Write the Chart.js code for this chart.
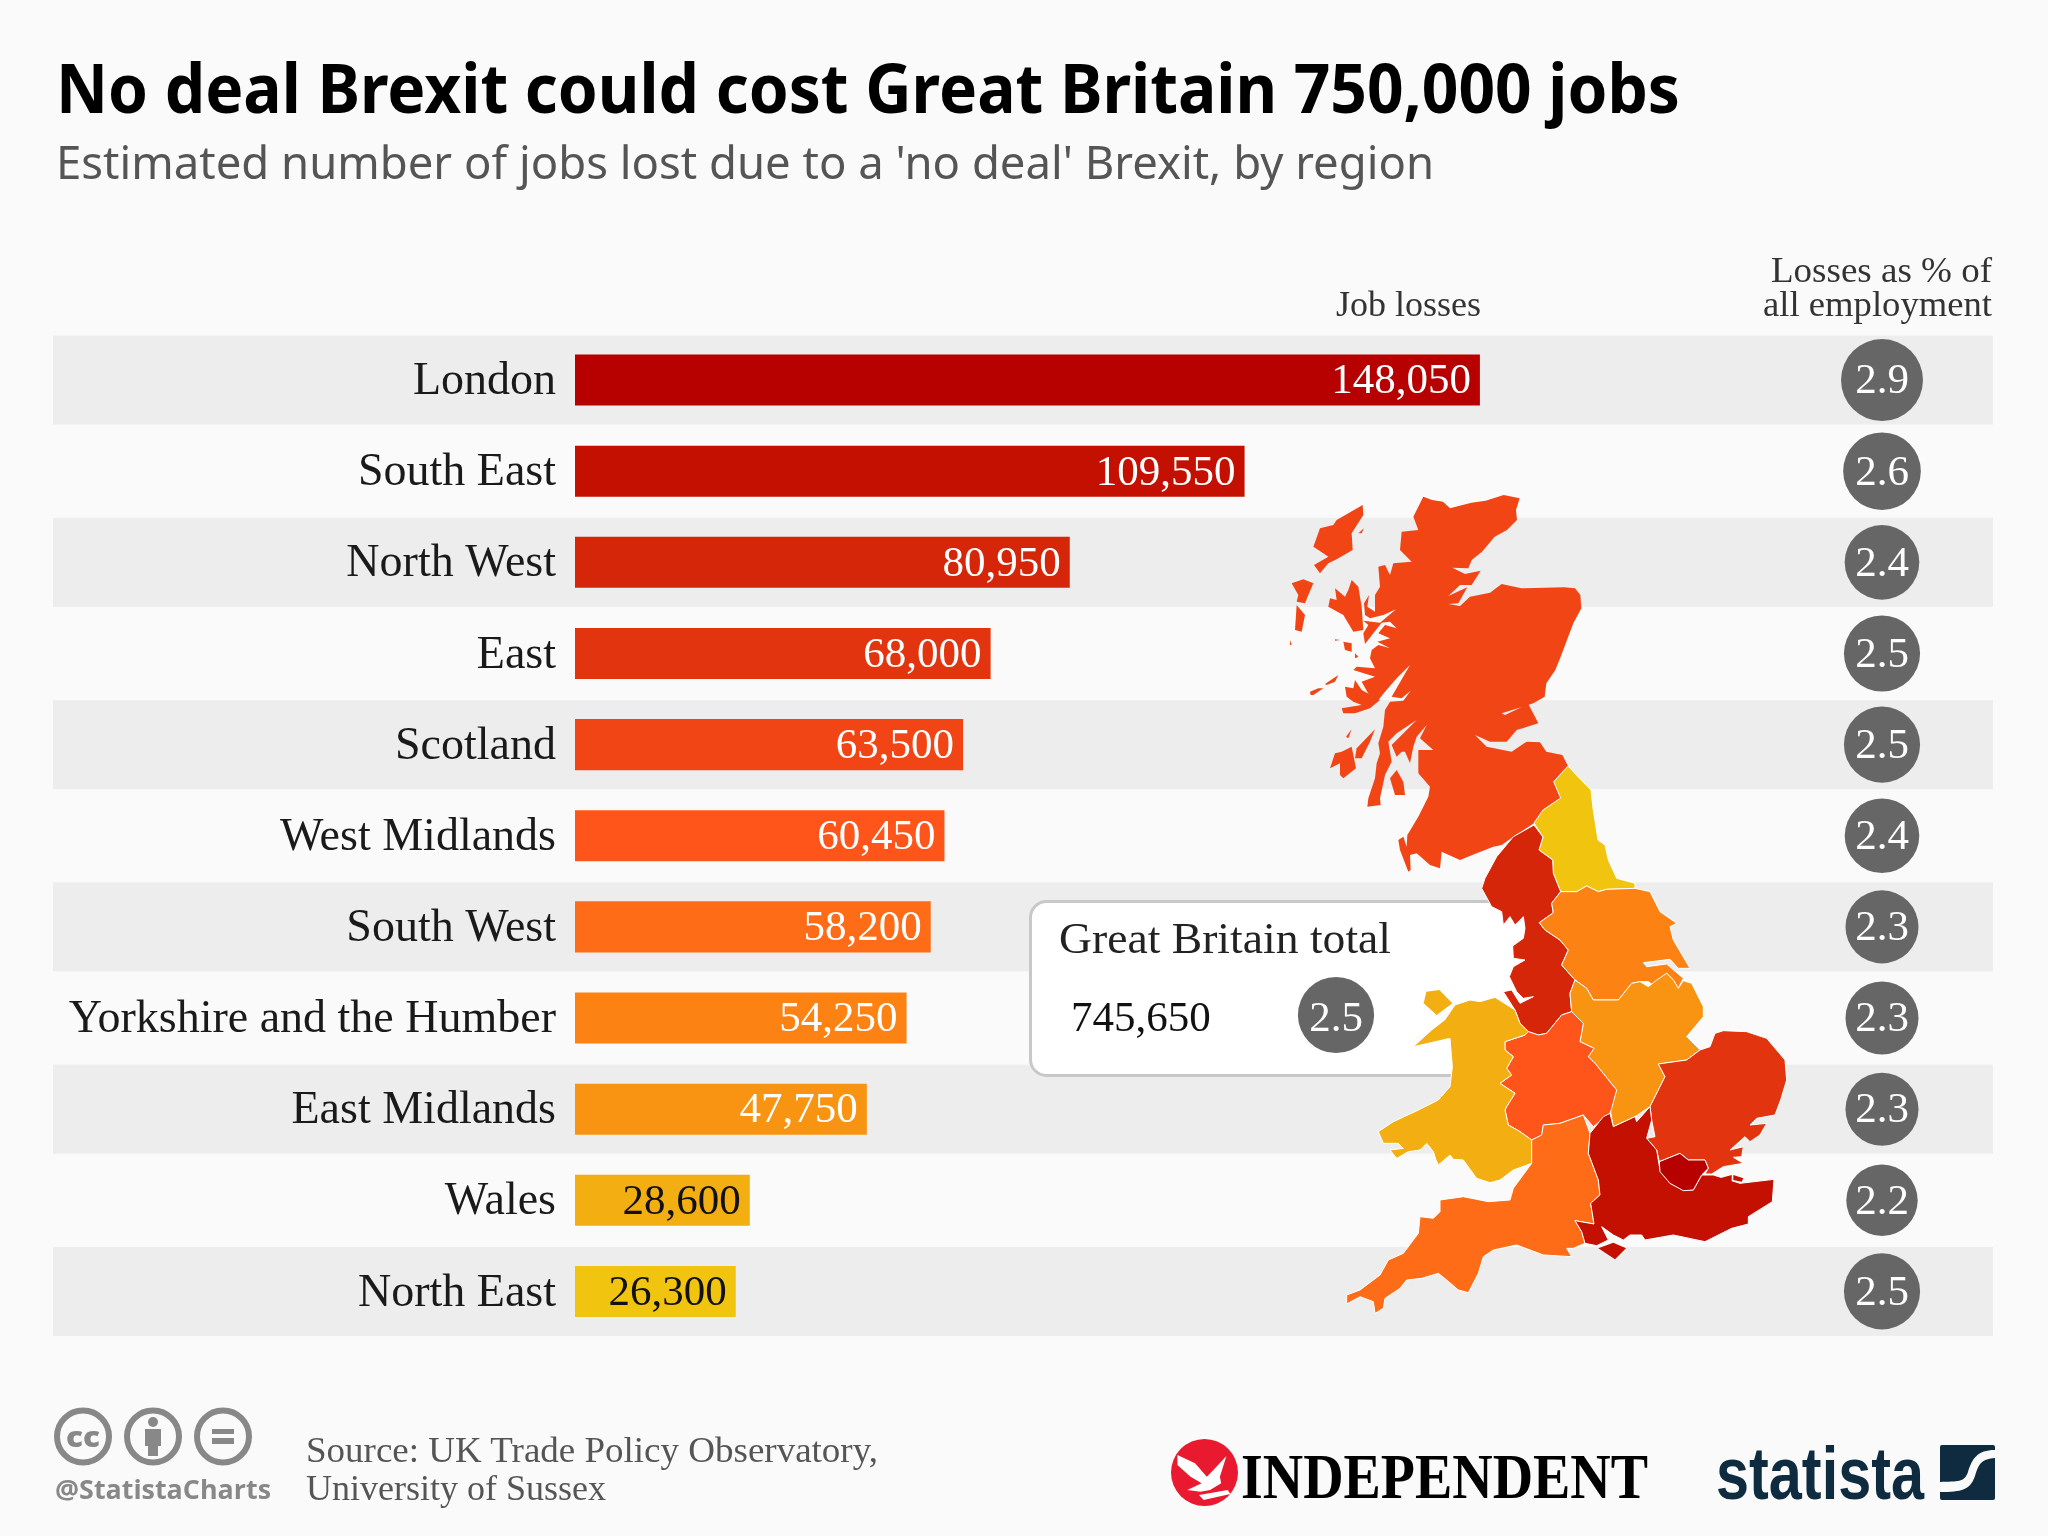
<!DOCTYPE html>
<html lang="en">
<head>
<meta charset="UTF-8">
<title>No deal Brexit could cost Great Britain 750,000 jobs</title>
<script src="https://cdn.jsdelivr.net/npm/chart.js@4/dist/chart.umd.min.js"></script>
<style>
  html, body { margin: 0; padding: 0; background: #fafafa; }
  #wrap { position: relative; width: 2048px; height: 1536px; overflow: hidden; }
  #myChart { position: absolute; left: 0; top: 0; }
  #overlay { position: absolute; left: 0; top: 0; }
  .serif { font-family: "Liberation Serif", serif; }
  .map path { stroke: #fff; stroke-width: 1; vector-effect: non-scaling-stroke; stroke-linejoin: round; }
  .map path.bare { stroke: none; }
</style>
</head>
<body>
<div id="wrap">
  <canvas id="myChart" width="2048" height="1536"></canvas>

  <svg id="overlay" width="2048" height="1536" viewBox="0 0 2048 1536">
    <!-- heading -->
    <text x="56" y="113" font-family="Noto Sans" font-weight="700" font-size="68" fill="#000" textLength="1624" lengthAdjust="spacingAndGlyphs">No deal Brexit could cost Great Britain 750,000 jobs</text>
    <text x="56" y="179" font-family="Noto Sans" font-size="46" fill="#555" textLength="1378" lengthAdjust="spacingAndGlyphs">Estimated number of jobs lost due to a 'no deal' Brexit, by region</text>

    <!-- column heads -->
    <g class="serif" font-size="36" fill="#333">
      <text x="1336" y="316" textLength="145" lengthAdjust="spacingAndGlyphs">Job losses</text>
      <text x="1771" y="282" textLength="221" lengthAdjust="spacingAndGlyphs">Losses as % of</text>
      <text x="1763" y="316" textLength="229" lengthAdjust="spacingAndGlyphs">all employment</text>
    </g>

    <!-- total box, sits under the map -->
    <rect x="1030.5" y="901.5" width="505" height="174" rx="16" fill="#fff" stroke="#c8c8c8" stroke-width="3"/>
    <text id="totalTitle" class="serif" x="1059" y="953" font-size="45" fill="#222" textLength="332" lengthAdjust="spacingAndGlyphs"></text>
    <text id="totalJobs" class="serif" x="1071" y="1031" font-size="43" fill="#111"></text>
    <circle id="totalCircle" cx="1336" cy="1015" fill="#666"/>
    <text id="totalPct" class="serif" x="1336" y="1031" font-size="43" fill="#fff" text-anchor="middle"></text>

    <!-- Scotland, traced from the crop at 1290,500 at 3x -->
    <g class="map" transform="translate(1290 500) scale(0.33333)" fill="#f24516">
      <path class="bare" d="M400 -10L426 0 459 5 480 25 544 8 587 2 641 -15 689 -5 678 30 681 60 651 90 614 110 576 155 545 180 535 205 487 203 525 222 572 212 545 255 510 255 475 288 532 262 505 310 475 312 510 318 540 290 600 278 635 252 694 265 823 262 855 265 871 285 874 325 850 370 831 420 812 470 796 510 769 550 764 590 730 610 635 640 645 645 715 612 745 670 680 690 650 725 600 725 555 705 590 740 665 755 710 725 750 727 769 755 817 765 834 798 791 845 812 895 759 930 732 970 678 1005 670 1010 635 1035 610 1040 560 1060 510 1080 455 1055 450 1105 420 1095 380 1060 360 1065 362 1110 355 1115 330 1050 325 1020 340 1010 350 1040 352 1005 385 950 415 890 420 860 385 820 385 750 430 750 390 715 410 675 380 710 370 740 360 790 345 755 335 755 320 770 305 735 380 660 320 700 295 725 305 785 285 825 270 895 272 915 232 920 235 895 255 835 260 790 270 760 265 730 280 680 285 630 300 605 340 602 362 572 335 595 305 590 360 495 320 535 285 575 265 600 240 590 215 545 255 530 190 510 200 500 255 505 240 475 245 450 265 435 300 445 262 425 300 415 265 400 285 375 320 385 300 365 275 368 250 400 225 432 220 400 235 375 220 362 270 368 318 328 280 345 240 355 225 345 222 310 237 285 232 320 255 335 255 285 270 260 265 200 285 195 300 225 310 190 365 185 330 150 335 95 385 90 370 50 395 0Z"/>
      <path class="bare" d="M185 240L205 260 215 320 220 390 190 395 160 345 115 320 120 295 140 300 135 265 165 290 175 270Z"/>
      <path class="bare" d="M218 15L220 45 185 100 188 150 140 178 115 190 90 220 72 195 115 170 85 150 70 140 90 85 130 75 140 60Z"/>
      <path class="bare" d="M205 100L222 85 215 100Z"/>
      <path class="bare" d="M5 250L40 238 70 250 55 285 45 310 20 305 25 285Z"/>
      <path class="bare" d="M20 315L45 345 35 395 15 390Z"/>
      <path class="bare" d="M0 420L5 435 0 435Z"/>
      <path class="bare" d="M160 425L185 430 185 455 165 450Z"/>
      <path class="bare" d="M195 460L205 470 195 475Z"/>
      <path class="bare" d="M135 418L150 420 135 422Z"/>
      <path class="bare" d="M60 575L85 565 100 565 70 585 62 585Z"/>
      <path class="bare" d="M105 552L145 525 135 545 110 555Z"/>
      <path class="bare" d="M195 540L215 570 270 600 240 625 195 640 160 640 155 625 215 615 190 605 170 590 165 560 190 565Z"/>
      <path class="bare" d="M120 805L135 760 155 755 185 740 198 805 160 835 150 825 150 790Z"/>
      <path class="bare" d="M195 775L200 745 255 688 240 725 215 775Z"/>
      <path class="bare" d="M168 710L185 688 175 715Z"/>
      <path class="bare" d="M300 835L320 810 340 845 345 885 315 885Z"/>
    </g>

    <!-- north of England, midlands, Wales, traced from the crop at 1470,860 at 3x -->
    <g class="map" transform="translate(1470 860) scale(0.33333)">
      <path fill="#f1c40f" d="M294 -282L251 -235 272 -186 219 -150 192 -111 219 -69 207 -30 248 0 250 40 272 95 320 95 350 78 385 95 410 88 495 85 495 70 440 55 415 0 405 -45 384 -60 369 -156 363 -210 342 -231Z"/>
      <path fill="#d5260a" d="M192 -105L219 -69 207 -30 248 0 250 40 272 95 245 130 250 158 208 188 225 210 270 240 295 270 275 315 315 360 300 400 305 455 275 465 230 520 205 525 175 515 150 490 135 450 100 395 125 390 150 430 190 410 160 415 140 395 118 350 130 320 165 300 130 295 128 258 160 235 165 205 160 170 135 195 120 170 100 195 95 155 65 140 35 85 45 55 80 -10 130 -70Z"/>
      <path fill="#fb8213" d="M272 95L320 95 350 78 385 95 410 88 495 85 540 95 570 155 620 190 600 200 610 240 660 325 625 325 600 298 520 308 530 320 590 312 640 355 625 385 610 360 590 340 555 380 535 365 510 365 485 370 445 420 370 420 350 385 315 360 275 315 295 270 270 240 225 210 208 188 250 158 245 130Z"/>
      <path fill="#f89412" d="M315 360L350 385 370 420 445 420 485 370 510 365 535 380 560 360 590 340 610 360 625 385 640 362 665 370 700 440 700 470 650 530 690 570 650 600 565 612 585 650 565 690 540 740 495 770 430 800 420 745 440 690 375 610 355 590 372 565 330 545 340 490 305 455 300 400Z"/>
      <path fill="#ff541a" d="M305 455L340 490 330 545 372 565 355 590 375 610 440 690 425 745 420 760 370 800 340 765 270 790 220 795 215 825 185 840 150 815 115 795 105 750 110 740 135 700 90 670 125 645 110 625 130 590 105 570 105 545 165 525 175 515 205 525 230 520 275 465Z"/>
      <path fill="#e2350f" d="M565 612L650 600 690 570 720 560 735 520 760 512 830 515 890 535 945 600 950 660 932 720 915 765 860 775 840 795 890 790 870 825 840 845 825 830 780 870 820 860 815 890 790 892 820 910 760 920 725 942 705 942 715 925 705 900 655 900 630 880 568 905 560 870 530 835 555 830 545 780 540 740 565 690 585 650Z"/>
      <path fill="#f3ae12" d="M0 420L30 425 75 412 135 450 150 490 175 515 165 525 105 545 105 570 130 590 110 625 125 645 90 670 135 700 110 740 105 750 115 795 150 815 185 840 185 910 130 930 90 960 60 968 20 955 -20 900 -50 898 -60 885 -95 915 -102 900 -110 875 -130 850 -150 870 -185 875 -220 895 -240 870 -200 865 -215 850 -260 850 -275 815 -230 785 -165 755 -95 720 -60 680 -53 620 -60 535 -170 560 -115 510 -76 480 -45 435Z"/>
      <path fill="#f3ae12" class="bare" d="M-131 395L-92 390 -53 430 -100 465 -139 430Z"/>
    </g>

    <!-- south of England, traced from the crop at 1340,1100 at 3x -->
    <g class="map" transform="translate(1340 1100) scale(0.33333)">
      <path fill="#ff6c17" d="M750 100L745 160 775 240 780 285 752 310 762 372 705 362 725 395 735 430 700 445 680 445 695 470 610 465 530 435 460 450 430 470 415 520 385 578 355 570 320 540 295 520 245 535 200 540 180 565 135 595 130 625 105 640 100 605 60 590 20 612 20 585 60 570 120 525 145 480 190 460 235 400 240 350 280 355 300 335 300 300 370 290 445 305 510 300 520 265 575 190 575 120 605 105 610 75 660 70 730 45Z"/>
      <path fill="#c41000" d="M810 40L820 80 885 50 890 65 930 20 935 60 920 115 950 150 960 210 990 250 1030 270 1060 270 1085 225 1120 225 1200 250 1302 238 1297 305 1225 350 1225 372 1175 385 1095 425 1000 405 915 420 905 405 870 405 850 420 820 405 785 380 805 420 770 437 735 430 725 395 705 362 762 372 752 310 780 285 775 240 745 160 750 100 790 50Z"/>
      <path fill="#c41000" class="bare" d="M775 445L820 428 858 445 825 478Z"/>
      <path fill="#c41000" class="bare" d="M1180 225L1210 235 1205 245 1180 240Z"/>
      <path fill="#c41000" class="bare" d="M1140 235L1175 225 1175 245 1150 245Z"/>
      <path fill="#b70000" d="M958 185L1020 160 1045 180 1095 180 1105 205 1085 225 1060 270 1030 272 990 250 960 215Z"/>
    </g>

    <!-- footer left -->
    <g fill="none" stroke="#888" stroke-width="6">
      <ellipse cx="83" cy="1436.5" rx="26" ry="26"/>
      <ellipse cx="153" cy="1436.5" rx="26" ry="26"/>
      <ellipse cx="223" cy="1436.5" rx="26" ry="26"/>
    </g>
    <text x="83" y="1447" font-family="Open Sans" font-weight="800" font-size="29" fill="#888" text-anchor="middle" textLength="34" lengthAdjust="spacingAndGlyphs">cc</text>
    <g fill="#888">
      <circle cx="153" cy="1422" r="5"/>
      <rect x="145" y="1429" width="16" height="17"/>
      <rect x="148" y="1446" width="10" height="10"/>
      <rect x="212" y="1429" width="22" height="5"/>
      <rect x="212" y="1438" width="22" height="6"/>
    </g>
    <text x="55" y="1499" font-family="Open Sans" font-weight="700" font-size="27" fill="#888" textLength="216" lengthAdjust="spacingAndGlyphs">@StatistaCharts</text>
    <g class="serif" font-size="36" fill="#555">
      <text x="306" y="1462" textLength="572" lengthAdjust="spacingAndGlyphs">Source: UK Trade Policy Observatory,</text>
      <text x="306" y="1500" textLength="300" lengthAdjust="spacingAndGlyphs">University of Sussex</text>
    </g>

    <!-- footer logos -->
    <ellipse cx="1204.5" cy="1472.5" rx="33.5" ry="33.5" fill="#e9192f"/>
    <g transform="translate(1024 1380) scale(0.653 0.33333)" fill="#fff">
      <path d="M235 225L262 250 280 290 290 270 310 228 300 290 302 310 285 330 270 335 250 330 272 310 255 290 235 255Z"/>
      <path d="M268 345L312 330 316 342 275 360Z"/>
    </g>
    <text class="serif" x="1241" y="1498" font-size="63" font-weight="700" fill="#000" textLength="407" lengthAdjust="spacingAndGlyphs">INDEPENDENT</text>
    <text x="1716" y="1499" font-family="Liberation Sans" font-weight="700" font-size="74" fill="#0f2b40" textLength="208" lengthAdjust="spacingAndGlyphs">statista</text>
    <rect x="1940" y="1445" width="55" height="55" rx="2" fill="#0f2b40"/>
    <path d="M1995 1450C1977 1450 1972 1459 1968 1472 1964 1483 1958 1481 1940 1482L1940 1492C1962 1492 1970 1490 1975 1476 1979 1463 1982 1459 1995 1458Z" fill="#fafafa"/>
  </svg>
</div>

<script>
  var categories = ['London', 'South East', 'North West', 'East', 'Scotland', 'West Midlands', 'South West', 'Yorkshire and the Humber', 'East Midlands', 'Wales', 'North East'];
  var jobLosses = [148050, 109550, 80950, 68000, 63500, 60450, 58200, 54250, 47750, 28600, 26300];
  var lossShare = [2.9, 2.6, 2.4, 2.5, 2.5, 2.4, 2.3, 2.3, 2.3, 2.2, 2.5];
  var regionColors = ['#b70000', '#c41000', '#d5260a', '#e2350f', '#f24516', '#ff541a', '#ff6c17', '#fb8213', '#f89412', '#f3ae12', '#f1c40f'];
  var valueTextColors = ['#fff', '#fff', '#fff', '#fff', '#fff', '#fff', '#fff', '#fff', '#fff', '#111', '#111'];

  var totalTitle = 'Great Britain total';
  var totalJobs = 745650;
  var totalShare = 2.5;

  function fmt(n) { return n.toLocaleString('en-GB'); }
  // circle area follows the share
  function circleRadius(v) { return 41 * Math.sqrt(v / 2.9); }

  document.getElementById('totalTitle').textContent = totalTitle;
  document.getElementById('totalJobs').textContent = fmt(totalJobs);
  document.getElementById('totalPct').textContent = totalShare.toFixed(1);
  document.getElementById('totalCircle').setAttribute('r', circleRadius(totalShare));

  /* grey stripes behind every other row */
  var rowBands = {
    id: 'rowBands',
    beforeDraw: function (chart) {
      var ctx = chart.ctx, y = chart.scales.y;
      ctx.save();
      ctx.fillStyle = '#ededed';
      categories.forEach(function (c, i) {
        if (i % 2 === 0) {
          ctx.fillRect(53, y.getPixelForValue(i) - 44.5, chart.chartArea.right - 53, 89);
        }
      });
      ctx.restore();
    }
  };

  /* value inside the bar end, share circle on the right */
  var rowLabels = {
    id: 'rowLabels',
    afterDatasetsDraw: function (chart) {
      var ctx = chart.ctx, x = chart.scales.x, y = chart.scales.y;
      ctx.save();
      ctx.textBaseline = 'middle';
      jobLosses.forEach(function (v, i) {
        var py = y.getPixelForValue(i);
        ctx.font = '43px "Liberation Serif"';
        ctx.textAlign = 'right';
        ctx.fillStyle = valueTextColors[i];
        ctx.fillText(fmt(v), x.getPixelForValue(v) - 9, py + 2);

        ctx.beginPath();
        ctx.arc(1882, py, circleRadius(lossShare[i]), 0, Math.PI * 2);
        ctx.fillStyle = '#666';
        ctx.fill();
        ctx.textAlign = 'center';
        ctx.fillStyle = '#fff';
        ctx.fillText(lossShare[i].toFixed(1), 1882, py + 2);
      });
      ctx.restore();
    }
  };

  var ctx = document.getElementById('myChart').getContext('2d');
  var myChart = new Chart(ctx, {
    type: 'bar',
    data: {
      labels: categories,
      datasets: [{
        label: 'Job losses',
        data: jobLosses,
        backgroundColor: regionColors,
        borderWidth: 0,
        categoryPercentage: 1,
        barPercentage: 0.56
      }]
    },
    options: {
      indexAxis: 'y',
      responsive: false,
      animation: false,
      layout: { padding: { top: 334.5, bottom: 199, right: 55, left: 0 } },
      plugins: {
        legend: { display: false },
        tooltip: { enabled: false }
      },
      scales: {
        x: { display: false, min: 0, max: 232000 },
        y: {
          afterFit: function (scale) { scale.width = 575; },
          grid: { display: false },
          border: { display: false },
          ticks: {
            padding: 11,
            labelOffset: 2,
            autoSkip: false,
            color: '#1a1a1a',
            font: { family: '"Liberation Serif"', size: 46 }
          }
        }
      }
    },
    plugins: [rowBands, rowLabels]
  });
</script>
</body>
</html>
